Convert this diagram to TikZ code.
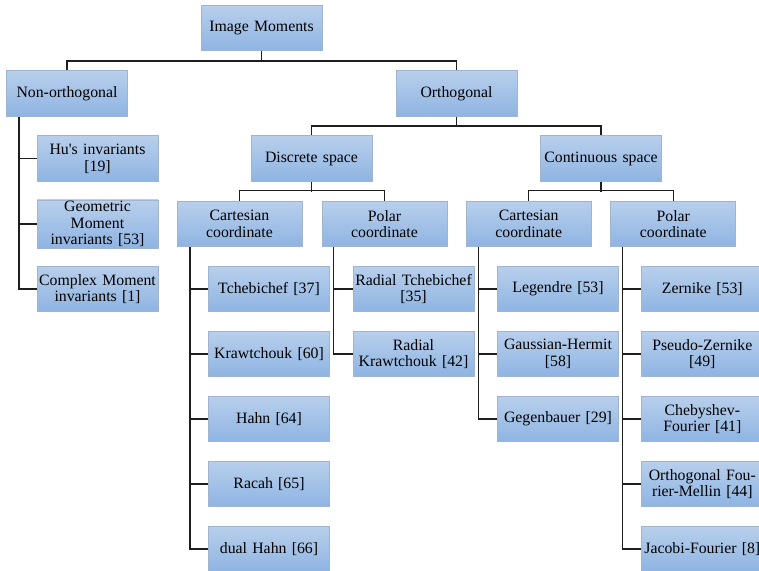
\documentclass[tikz,border=0pt]{standalone}
\usepackage{fontspec}
\setmainfont{Liberation Serif}[Ligatures=TeXOff]
\definecolor{boxtop}{RGB}{184,207,236}
\definecolor{boxbot}{RGB}{142,180,226}
\definecolor{boxline}{RGB}{160,180,208}
\definecolor{conncol}{RGB}{30,30,30}
\begin{document}
\begin{tikzpicture}[x=1pt,y=-1pt,
  box/.style={rectangle, draw=boxline, line width=0.8pt, top color=boxtop, bottom color=boxbot,
    minimum height=45.5pt, inner sep=1pt, align=center,
    font=\fontsize{15.8}{16.8}\selectfont},
  w120/.style={box, minimum width=121pt, text width=119pt},
  w125/.style={box, minimum width=125pt, text width=123pt},
  conn/.style={draw=conncol, line width=1.2pt}]
\useasboundingbox (0,0) rectangle (759,570);
% level 0-1
\node[w120] (IM) at (261.5,28) {Image Moments};
\node[w120] (NonO) at (67,93.5) {Non-orthogonal};
\node[w120] (Orth) at (456.5,93.5) {Orthogonal};
% non-orthogonal leaves
\node[w120] (Hu) at (97.5,158.5) {Hu's invariants\\{}[19]};
\node[w120] (Geo) at (97.5,224) {Geometric\\Moment\\invariants [53]};
\node[w120] (Cpx) at (97.5,289) {Complex Moment\\invariants [1]};
% spaces
\node[w120] (Disc) at (311.5,158.5) {Discrete space};
\node[w120] (Cont) at (601,158.5) {Continuous space};
% coordinates
\node[w125] (CartD) at (239.5,224) {Cartesian\\coordinate};
\node[w125] (PolD) at (384.5,224) {Polar\\coordinate};
\node[w125] (CartC) at (528.7,224) {Cartesian\\coordinate};
\node[w125] (PolC) at (673.3,224) {Polar\\coordinate};
% discrete cartesian leaves
\node[w120] (Tch) at (269,289) {Tchebichef [37]};
\node[w120] (Kra) at (269,354) {Krawtchouk [60]};
\node[w120] (Hah) at (269,419) {Hahn [64]};
\node[w120] (Rac) at (269,484) {Racah [65]};
\node[w120] (Dua) at (269,549) {dual Hahn [66]};
% discrete polar leaves
\node[w120] (RTch) at (413.5,289) {Radial Tchebichef\\{}[35]};
\node[w120] (RKra) at (413.5,354) {Radial\\Krawtchouk [42]};
% continuous cartesian leaves
\node[w120] (Leg) at (558,289) {Legendre [53]};
\node[w120] (Gau) at (558,354) {Gaussian-Hermit\\{}[58]};
\node[w120] (Geg) at (558,419) {Gegenbauer [29]};
% continuous polar leaves
\node[w120] (Zer) at (702.3,289) {Zernike [53]};
\node[w120] (PZe) at (702.3,354) {Pseudo-Zernike\\{}[49]};
\node[w120] (Che) at (702.3,419) {Chebyshev-\\Fourier [41]};
\node[w120] (OFM) at (702.3,484) {Orthogonal Fou-\\rier-Mellin [44]};
\node[w120] (Jac) at (702.3,549) {Jacobi-Fourier [8]};
% bus connectors
\draw[conn] (IM.south) -- ++(0,10.7);
\draw[conn] (NonO.north) -- ++(0,-9.3) -| (Orth.north);
\draw[conn] (Orth.south) -- ++(0,10.7);
\draw[conn] (Disc.north) -- ++(0,-9.3) -| (Cont.north);
\draw[conn] (Disc.south) -- ++(0,10);
\draw[conn] (CartD.north) -- ++(0,-10) -| (PolD.north);
\draw[conn] (Cont.south) -- ++(0,10);
\draw[conn] (CartC.north) -- ++(0,-10) -| (PolC.north);
% trunks
\draw[conn] ([xshift=-48pt]NonO.south) |- (Cpx.west);
\draw[conn] (Hu.west) -- ++(-18,0);
\draw[conn] (Geo.west) -- ++(-18,0);
\draw[conn] ([xshift=-49.5pt]CartD.south) |- (Dua.west);
\foreach \n in {Tch,Kra,Hah,Rac} \draw[conn] (\n.west) -- ++(-18.5,0);
\draw[conn] ([xshift=-51.2pt]PolD.south) |- (RKra.west);
\draw[conn] (RTch.west) -- ++(-19.7,0);
\draw[conn] ([xshift=-50.4pt]CartC.south) |- (Geg.west);
\foreach \n in {Leg,Gau} \draw[conn] (\n.west) -- ++(-19,0);
\draw[conn] ([xshift=-51pt]PolC.south) |- (Jac.west);
\foreach \n in {Zer,PZe,Che,OFM} \draw[conn] (\n.west) -- ++(-19.4,0);
\end{tikzpicture}
\end{document}
